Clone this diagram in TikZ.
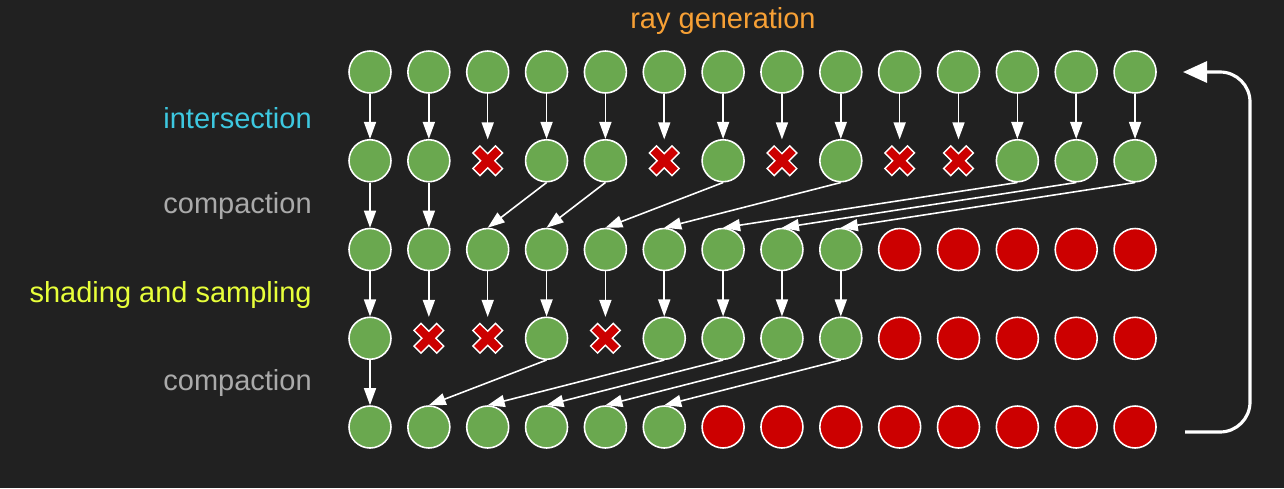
\documentclass[tikz,border=0pt]{standalone}
\usepackage{fontspec}
\setmainfont{Liberation Sans}
\usetikzlibrary{arrows.meta}

\definecolor{bg}{HTML}{212121}
\definecolor{alive}{HTML}{6AA84F}
\definecolor{spent}{HTML}{CC0000}
\definecolor{genorange}{HTML}{F7A035}
\definecolor{isectcyan}{HTML}{3DC8E0}
\definecolor{compgray}{HTML}{AAAAAA}
\definecolor{shadeyellow}{HTML}{E8FF3A}

\tikzset{
    cellg/.style={circle,draw=white,line width=0.9pt,fill=alive,minimum size=0.84cm,inner sep=0},
    cellr/.style={cellg,fill=spent},
    cellx/.style={circle,minimum size=0.84cm,inner sep=0,
        path picture={
            \draw[draw=white,fill=spent,line width=0.8pt,shift={(path picture bounding box.center)}]
                (-0.297cm,0.156cm) -- (-0.156cm,0.297cm) -- (0cm,0.141cm) -- (0.156cm,0.297cm)
                -- (0.297cm,0.156cm) -- (0.141cm,0cm) -- (0.297cm,-0.156cm) -- (0.156cm,-0.297cm)
                -- (0cm,-0.141cm) -- (-0.156cm,-0.297cm) -- (-0.297cm,-0.156cm) -- (-0.141cm,0cm) -- cycle;
        }},
    link/.style={white,line width=0.9pt,-{Triangle[length=0.34cm,width=0.24cm]}},
    loopback/.style={white,line width=1.8pt,rounded corners=0.6cm,-{Triangle[length=0.48cm,width=0.42cm]}},
    stage/.style={anchor=east,inner sep=0,font=\fontsize{16.5}{20}\selectfont}
}

\begin{document}
\begin{tikzpicture}[x=0.02cm,y=-0.02cm]
    \pgfmathsetmacro{\colstep}{58.85}
    \pgfmathsetmacro{\rowstep}{88.75}
    \fill[bg] (0,0) rectangle (1284,488);
    \useasboundingbox (0,0) rectangle (1284,488);

    % rays, one row per stage
    \foreach \r/\kinds in {
        1/{g,g,g,g,g,g,g,g,g,g,g,g,g,g},
        2/{g,g,x,g,g,x,g,x,g,x,x,g,g,g},
        3/{g,g,g,g,g,g,g,g,g,r,r,r,r,r},
        4/{g,x,x,g,x,g,g,g,g,r,r,r,r,r},
        5/{g,g,g,g,g,g,r,r,r,r,r,r,r,r}}
    {
        \foreach \k [count=\c] in \kinds
            \node[cell\k] (n\r-\c) at ({370+(\c-1)*\colstep},{72+(\r-1)*\rowstep}) {};
    }

    % stage labels
    \node[font=\fontsize{16.5}{20}\selectfont,text=genorange,inner sep=0] (gen) at (723,21) {ray generation};
    \node[stage,text=isectcyan] (isect) at (312,118) {intersection};
    \node[stage,text=compgray] (comp1) at (312,206) {compaction};
    \node[stage,text=shadeyellow] (shade) at (312,295) {shading and sampling};
    \node[stage,text=compgray] (comp2) at (312,383) {compaction};

    % intersection
    \foreach \c in {1,...,14}
        \draw[link] (n1-\c.south) -- (n2-\c.north);
    % compaction
    \foreach \a/\b in {1/1,2/2,4/3,5/4,7/5,9/6,12/7,13/8,14/9}
        \draw[link] (n2-\a.south) -- (n3-\b.north);
    % shading and sampling
    \foreach \c in {1,...,9}
        \draw[link] (n3-\c.south) -- (n4-\c.north);
    % compaction
    \foreach \a/\b in {1/1,4/2,6/3,7/4,8/5,9/6}
        \draw[link] (n4-\a.south) -- (n5-\b.north);

    % back to ray generation
    \coordinate (ret-out) at (1185,432);
    \coordinate (ret-in) at (1183,72);
    \draw[loopback] (ret-out) -- (1250,432) -- (1250,72) -- (ret-in);
\end{tikzpicture}
\end{document}
